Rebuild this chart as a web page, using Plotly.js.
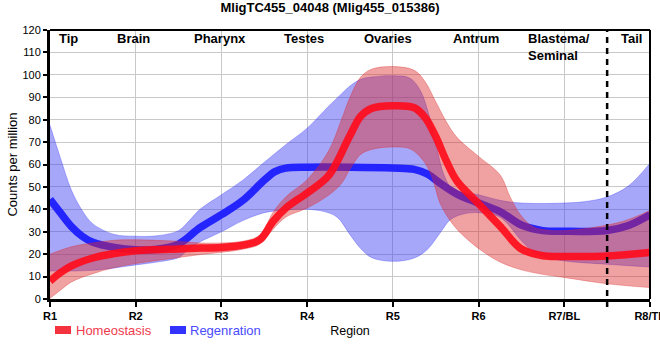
<!DOCTYPE html>
<html>
<head>
<meta charset="utf-8">
<script src="https://cdn.plot.ly/plotly-3.0.1.min.js"></script>
<style>html,body{margin:0;padding:0;background:#fff;}#chart{width:660px;height:360px;}</style>
</head>
<body>
<div id="chart"></div>
<script>
// ---- Data ----
const tickLabels = ['R1','R2','R3','R4','R5','R6','R7/BL','R8/TP'];
const regionNames = ['Tip','Brain','Pharynx','Testes','Ovaries','Antrum','Blastema/<br>Seminal','Tail'];
const regionPos = [1.21, 1.97, 2.98, 3.96, 4.94, 5.97, 6.65, 7.78];

// Homeostasis (red)
const homX = [1,1.125,1.25,1.5,1.75,2,2.25,2.5,2.75,3,3.25,3.45,3.6,3.75,4,4.25,4.5,4.625,4.75,5,5.25,5.375,5.5,5.625,5.75,6,6.25,6.5,6.75,7,7.5,8];
const homMean = [8,11.8,14.8,18.3,20.3,21.5,22,22.3,22.7,23,24,26.5,34.5,40.5,47.3,55,73,81.5,85,86.2,85.3,81,72.5,61.5,52.5,42.5,32.5,22.3,19.3,19,19.2,20.8];
const homUpX = [1,1.25,1.5,1.75,2,2.5,2.75,3,3.25,3.45,3.6,3.75,4,4.25,4.4,4.5,4.625,4.75,5,5.25,5.375,5.5,5.625,5.75,6,6.25,6.375,6.5,6.625,6.75,7,7.5,7.75,8];
const homUp = [20,23.3,25,26.2,26.4,25.7,25,25,25.8,28.5,38.5,45.5,53.2,66,80,90,99,102.5,103.7,102,97,88,79,72,63.6,55.4,45,37,32.5,31,30.5,33,35.5,39.5];
const homLoX = [1,1.125,1.25,1.5,1.75,2,2.25,2.5,2.75,3,3.25,3.45,3.6,3.75,4,4.25,4.4,4.5,4.625,4.75,5,5.2,5.35,5.45,5.55,5.625,5.75,6,6.25,6.5,6.75,7,7.5,8];
const homLo = [0.3,4,7.6,11.3,14,15.8,17.2,18.5,19.8,20.8,22.2,24.5,31,36.5,40.6,46.3,51.5,58,64.5,66.7,67.8,67,62,55,42.8,37.5,31,22.5,16.5,13,11,9.6,6.8,5.1];

// Regeneration (blue)
const regX = [1,1.125,1.25,1.375,1.5,1.75,2,2.25,2.5,2.75,3,3.25,3.5,3.625,3.75,4,4.5,5,5.25,5.4,5.55,5.75,6,6.25,6.5,6.75,7,7.5,7.75,8];
const regMean = [44.5,38.3,32.3,28,25.3,23,22,22.2,24.5,31.8,37.6,44,53,56.8,58.4,58.8,58.8,58.4,57.8,55.8,51.7,46.8,42.8,39,33,30.5,30.2,30.6,32.8,37.6];
const regUpX = [1,1.125,1.25,1.375,1.5,1.75,2,2.25,2.5,2.625,2.75,3,3.25,3.5,3.75,4,4.25,4.4,4.5,4.625,4.75,5,5.2,5.32,5.43,5.52,5.6,5.7,6,6.25,6.5,7,7.25,7.5,7.75,8];
const regUp = [77.5,62.5,48.5,39.5,33.5,28.8,28,28.2,30.5,35,40,46.5,53,61,68.8,76.2,86,91.5,95,98,99,99.6,98.5,93,81,66,55,49,46.5,44,42.8,42.8,43.5,45.5,50.5,60.6];
const regLoX = [1,1.5,2,2.25,2.5,2.625,2.75,3,3.25,3.5,3.75,4,4.2,4.35,4.5,4.625,4.75,5,5.25,5.4,5.55,5.67,5.82,6,6.25,6.5,6.625,6.75,7,7.5,8];
const regLo = [12.5,12.8,15.2,16.5,18.5,22.5,25.5,30,35,38.5,39.7,40,39,36.5,28.7,22.5,18.5,16.8,18.3,22,29.4,35.4,37.9,38.5,36.5,26,21.5,19,17,15.5,14.3];

// ---- Styling ----
const FONT = 'Liberation Sans, Arial, sans-serif';
const blueFill = 'rgba(60,60,245,0.45)';
const redFill = 'rgba(220,40,40,0.43)';

const traces = [
  {x: regLoX, y: regLo, mode:'lines', line:{shape:'spline', color:'rgba(60,60,245,0.35)', width:1}, hoverinfo:'skip', showlegend:false},
  {x: regUpX, y: regUp, mode:'lines', fill:'tonexty', fillcolor: blueFill, line:{shape:'spline', color:'rgba(60,60,245,0.35)', width:1}, hoverinfo:'skip', showlegend:false},
  {x: regX, y: regMean, mode:'lines', name:'Regenration', line:{shape:'spline', color:'rgba(25,25,255,0.92)', width:7.5}, showlegend:false},
  {x: homLoX, y: homLo, mode:'lines', line:{shape:'spline', color:'rgba(220,40,40,0.35)', width:1}, hoverinfo:'skip', showlegend:false},
  {x: homUpX, y: homUp, mode:'lines', fill:'tonexty', fillcolor: redFill, line:{shape:'spline', color:'rgba(220,40,40,0.35)', width:1}, hoverinfo:'skip', showlegend:false},
  {x: homX, y: homMean, mode:'lines', name:'Homeostasis', line:{shape:'spline', color:'rgba(255,10,25,0.9)', width:7.5}, showlegend:false}
];

const plotL = 50, plotW = 600, plotT = 30, plotH = 269;
function px2paperX(px){ return (px - plotL) / plotW; }
function py2paperY(py){ return (plotT + plotH - py) / plotH; }

const annotations = regionNames.map((t, i) => ({
  x: regionPos[i], xref:'x', y: 1, yref:'paper', yanchor:'top',
  xanchor: t.startsWith('Blastema') ? 'left' : 'center', align:'left',
  yshift: 1, xshift: t.startsWith('Blastema') ? -8 : 0,
  text: '<b>' + t + '</b>', showarrow:false,
  font:{family:FONT, size:13, color:'#000'}
}));
// manual legend texts
annotations.push({x: px2paperX(74), xref:'paper', y: py2paperY(330), yref:'paper', xanchor:'left', yanchor:'middle', text:'Homeostasis', showarrow:false, font:{family:FONT, size:13, color:'#f03a4c'}});
annotations.push({x: px2paperX(188), xref:'paper', y: py2paperY(330), yref:'paper', xanchor:'left', yanchor:'middle', text:'Regenration', showarrow:false, font:{family:FONT, size:13, color:'#4a4aff'}});

const shapes = [
  {type:'line', xref:'paper', yref:'paper', x0:0, x1:1, y0:1, y1:1, line:{color:'#000', width:2}, layer:'above'},
  {type:'line', xref:'paper', yref:'paper', x0:1, x1:1, y0:0, y1:1, line:{color:'#000', width:2}, layer:'above'},
  {type:'line', xref:'x', yref:'paper', x0:7.5, x1:7.5, y0:-0.03, y1:1, line:{color:'#000', width:2.5, dash:'6px,5px'}, layer:'above'},
  {type:'rect', xref:'paper', yref:'paper', x0:px2paperX(55), x1:px2paperX(71), y0:py2paperY(334), y1:py2paperY(326), fillcolor:'#f5333f', line:{width:0}},
  {type:'rect', xref:'paper', yref:'paper', x0:px2paperX(170), x1:px2paperX(186), y0:py2paperY(334), y1:py2paperY(326), fillcolor:'#3333ff', line:{width:0}}
];

const layout = {
  width:660, height:360,
  margin:{l:50, r:10, t:30, b:61, pad:0},
  paper_bgcolor:'#fff', plot_bgcolor:'#fff',
  font:{family:FONT, color:'#000'},
  showlegend:false,
  title:{text:'<b>MligTC455_04048 (Mlig455_015386)</b>', font:{family:FONT, size:13, color:'#000'}, x:0.5, xref:'container', xanchor:'center', y:0.978, yanchor:'middle'},
  xaxis:{
    range:[1,8], tickmode:'array', tickvals:[1,2,3,4,5,6,7,8],
    ticktext: tickLabels.map(t => '<b>' + t + '</b>'),
    tickfont:{family:FONT, size:11, color:'#000'},
    ticklabeloverflow:'allow',
    ticks:'outside', ticklen:5, tickwidth:2, tickcolor:'#000',
    showgrid:true, gridcolor:'#c8c8c8', gridwidth:1,
    showline:true, linecolor:'#000', linewidth:3, zeroline:false,
    title:{text:'Region', font:{family:FONT, size:12.5, color:'#000'}, standoff:6},
    automargin:false, fixedrange:true
  },
  yaxis:{
    range:[0,120], tickmode:'linear', tick0:0, dtick:10,
    tickfont:{family:FONT, size:11, color:'#000'},
    ticks:'outside', ticklen:4, tickwidth:2, tickcolor:'#000',
    showgrid:true, gridcolor:'#c8c8c8', gridwidth:1,
    showline:true, linecolor:'#000', linewidth:3, zeroline:false,
    title:{text:'Counts per million', font:{family:FONT, size:13, color:'#000'}, standoff:2},
    automargin:false, fixedrange:true
  },
  annotations: annotations,
  shapes: shapes
};

Plotly.newPlot('chart', traces, layout, {staticPlot:true, displayModeBar:false});
</script>
</body>
</html>
